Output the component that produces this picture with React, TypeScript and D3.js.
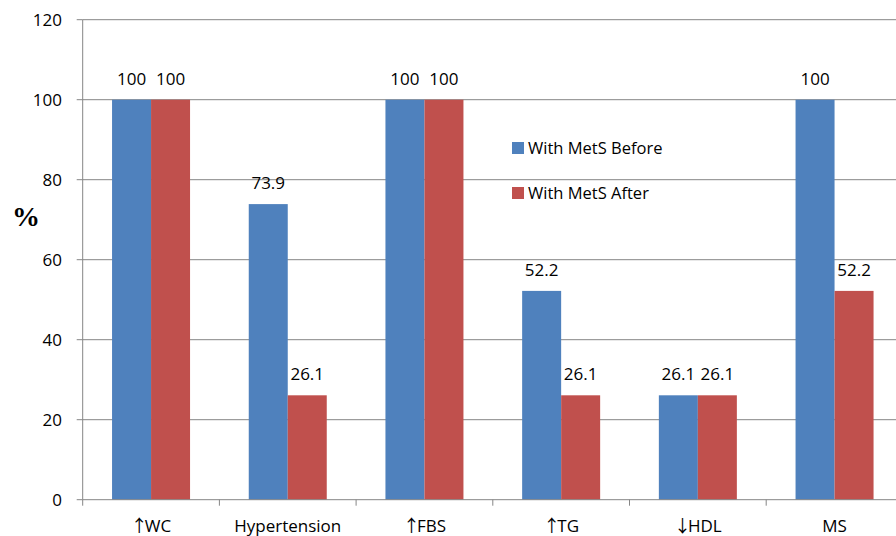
import React from "react";
import * as d3 from "d3";

const categories = ["\u2191WC", "Hypertension", "\u2191FBS", "\u2191TG", "\u2193HDL", "MS"];
const seriesNames = ["With MetS Before", "With MetS After"];
const before = [100, 73.9, 100, 52.2, 26.1, 100];
const after = [100, 26.1, 100, 26.1, 26.1, 52.2];
const yTicks = [0, 20, 40, 60, 80, 100, 120];
const colors = ["#4F81BD", "#C0504D"];

const W = 896;
const H = 536;
const left = 82.7;
const band = 136.7;
const top = 19.7;
const bottom = 499.7;
const font = "'Open Sans', sans-serif";

function CatLabel({ text }: { text: string }) {
  const first = text.charAt(0);
  if (first === "\u2191" || first === "\u2193") {
    return (
      <>
        <tspan fontFamily="'Noto Sans CJK JP', 'DejaVu Sans', sans-serif">{first}</tspan>
        <tspan dx={-3}>{text.slice(1)}</tspan>
      </>
    );
  }
  return <>{text}</>;
}

export default function App() {
  const x = d3
    .scaleBand<string>()
    .domain(categories)
    .range([left, left + band * categories.length])
    .paddingInner(0)
    .paddingOuter(0);
  const y = d3.scaleLinear().domain([0, 120]).range([bottom, top]);
  const barW = 39;
  const series = [before, after];
  const axisColor = "#868686";

  return (
    <svg
      width={W}
      height={H}
      style={{ position: "absolute", left: 0, top: 0, background: "#fff" }}
      fontFamily={font}
    >
      <rect x={0} y={0} width={W} height={H} fill="#fff" />
      {yTicks.slice(1).map((t) => (
        <line key={"g" + t} x1={left} x2={W} y1={y(t)} y2={y(t)} stroke={axisColor} strokeWidth={1} />
      ))}
      {yTicks.map((t) => (
        <g key={"y" + t}>
          <line x1={left - 6} x2={left} y1={y(t)} y2={y(t)} stroke={axisColor} />
          <text x={62} y={y(t) + 6} textAnchor="end" fontSize={17} fill="#000">
            {t}
          </text>
        </g>
      ))}
      {categories.map((c, i) => {
        const cx = (x(c) as number) + x.bandwidth() / 2;
        return (
          <g key={c}>
            {series.map((s, k) => {
              const bx = cx - barW + k * barW;
              return (
                <g key={k}>
                  <rect x={bx} y={y(s[i])} width={barW} height={bottom - y(s[i])} fill={colors[k]} />
                  <text x={bx + barW / 2} y={y(s[i]) - 15} textAnchor="middle" fontSize={17} fill="#000">
                    {s[i]}
                  </text>
                </g>
              );
            })}
          </g>
        );
      })}
      <line x1={left} x2={left} y1={top} y2={bottom} stroke={axisColor} />
      <line x1={left} x2={W} y1={bottom} y2={bottom} stroke={axisColor} />
      {d3.range(categories.length + 1).map((k) => (
        <line
          key={"xt" + k}
          x1={left + band * k}
          x2={left + band * k}
          y1={bottom}
          y2={bottom + 6}
          stroke={axisColor}
        />
      ))}
      {categories.map((c) => (
        <text
          key={"xl" + c}
          x={(x(c) as number) + x.bandwidth() / 2}
          y={531.5}
          textAnchor="middle"
          fontSize={17}
          fill="#000"
        >
          <CatLabel text={c} />
        </text>
      ))}
      <text x={26} y={226} textAnchor="middle" fontSize={28} fontWeight="bold" fontFamily="'Liberation Serif', 'Times New Roman', serif">
        %
      </text>
      {seriesNames.map((n, k) => (
        <g key={n}>
          <rect x={512} y={142 + k * 45} width={12} height={12} fill={colors[k]} />
          <text x={528} y={154 + k * 45} fontSize={16.5} fill="#000">
            {n}
          </text>
        </g>
      ))}
    </svg>
  );
}
